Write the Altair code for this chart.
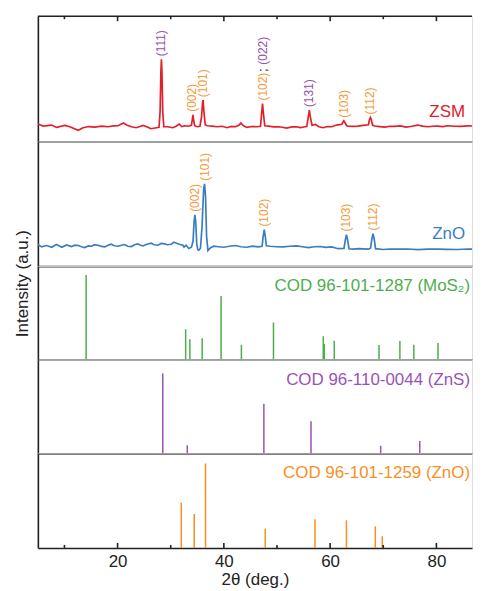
import altair as alt
import pandas as pd

FONT = "Liberation Sans"
AX = "#222222"
RED = "#e3202a"
BLUE = "#3a7ebf"
GREEN = "#4cae4c"
PURPLE = "#9a52b4"
ORANGE = "#f7901e"
LBL_OR = "#f39a3b"
LBL_PU = "#9650b0"

W = 436
XDOM = [5, 86.7]
H = [126, 125, 94, 94, 95]

zsm_x = [5.0, 6.0, 7.6, 8.5, 10.1, 11.0, 12.6, 13.5, 14.6, 15.7, 17.0, 18.2, 19.2, 20.1,
         21.1, 21.8, 22.6, 23.5, 24.8, 25.6, 26.3, 27.3, 27.8, 28.0, 28.15, 28.25, 28.35,
         28.5, 28.7, 29.4, 30.4, 31.0, 31.6, 32.1, 32.6, 33.3, 33.9, 34.05, 34.18, 34.3,
         34.5, 35.0, 35.5, 35.8, 36.0, 36.1, 36.25, 36.5, 36.9, 37.8, 38.7, 39.7, 40.6,
         41.4, 42.2, 42.8, 43.2, 43.7, 44.3, 45.3, 46.2, 46.9, 47.1, 47.28, 47.45, 47.7,
         48.4, 49.4, 50.3, 51.0, 51.8, 52.8, 53.7, 54.4, 55.0, 55.6, 55.9, 56.09, 56.3,
         56.6, 57.2, 57.9, 58.7, 59.5, 60.3, 61.2, 62.2, 62.45, 62.58, 62.75, 63.1, 63.4,
         64.3, 65.3, 66.2, 67.2, 67.4, 67.57, 67.75, 68.0, 68.4, 69.3, 70.3, 71.2, 72.1,
         73.2, 74.3, 75.4, 76.5, 77.4, 78.4, 79.3, 80.2, 81.2, 82.1, 83.4, 84.6, 85.9,
         87.1, 88.2]
zsm_y = [17.7, 15.7, 16.7, 14.3, 16.3, 15.0, 11.5, 14.0, 15.2, 14.7, 15.6, 15.0, 15.8, 16.0,
         18.7, 16.5, 15.0, 14.0, 16.3, 14.8, 13.0, 14.0, 14.5, 30.0, 70.0, 82.7, 70.0,
         30.0, 15.0, 15.0, 14.0, 15.5, 17.7, 15.2, 16.0, 15.5, 16.5, 22.0, 27.0, 22.0,
         16.0, 15.0, 15.5, 25.0, 40.0, 41.7, 30.0, 17.0, 16.0, 15.6, 15.0, 15.5, 14.0,
         15.3, 15.0, 16.5, 18.7, 16.0, 14.3, 15.2, 15.0, 15.5, 28.0, 38.3, 28.0, 16.0,
         15.7, 14.8, 15.0, 14.5, 13.7, 14.8, 15.0, 14.2, 14.7, 15.2, 25.0, 31.7, 24.0,
         16.5, 17.3, 15.0, 14.0, 15.2, 15.0, 16.7, 17.5, 20.0, 21.0, 19.5, 16.0, 15.7,
         15.3, 15.7, 16.3, 17.0, 22.0, 24.3, 22.0, 16.5, 15.7, 15.2, 14.7, 15.5, 15.3,
         15.8, 14.7, 15.5, 16.7, 15.6, 15.0, 15.5, 15.7, 15.2, 16.0, 15.5, 15.3, 15.9,
         15.7, 15.5]

zno_x = [5.0, 5.7, 6.65, 7.6, 8.5, 9.5, 10.4, 11.3, 12.0, 12.6, 13.2, 13.8, 14.5, 15.1,
         15.7, 16.3, 17.0, 17.6, 18.2, 18.8, 19.4, 20.1, 20.7, 21.3, 21.9, 22.6, 23.2,
         23.8, 24.3, 24.8, 25.5, 26.3, 26.9, 27.6, 28.2, 28.8, 29.4, 30.1, 30.6, 31.0,
         31.6, 32.3, 32.5, 32.9, 33.4, 33.9, 34.2, 34.4, 34.55, 34.7, 34.9, 35.1, 35.3,
         35.6, 35.9, 36.2, 36.37, 36.55, 36.75, 37.0, 37.5, 38.1, 39.0, 40.0, 41.0, 42.2,
         43.2, 44.3, 45.4, 46.5, 47.2, 47.4, 47.6, 47.8, 48.0, 48.7, 49.9, 51.2, 52.4,
         53.7, 54.8, 55.9, 57.0, 58.1, 59.2, 60.3, 61.5, 62.6, 62.85, 63.07, 63.3, 63.55,
         64.3, 65.3, 66.2, 67.2, 67.6, 67.85, 68.07, 68.3, 68.55, 69.9, 71.3, 72.7, 74.6,
         76.5, 78.4, 80.2, 82.0, 83.9, 86.0, 88.2]
zno_y = [21.7, 19.3, 20.7, 19.0, 21.7, 19.0, 21.3, 19.7, 21.0, 20.7, 19.5, 18.7, 20.3, 20.0,
         21.5, 21.0, 19.8, 19.3, 21.0, 22.0, 20.5, 20.0, 21.0, 21.7, 20.0, 19.7, 21.5,
         22.3, 21.0, 20.3, 22.0, 23.0, 21.5, 21.0, 22.8, 22.3, 21.5, 22.0, 24.0, 23.3,
         22.0, 21.0, 19.0, 21.0, 17.7, 19.0, 25.0, 45.0, 51.5, 45.0, 22.0, 16.5, 16.0,
         18.0, 40.0, 78.0, 82.7, 70.0, 30.0, 15.7, 18.5, 20.0, 19.5, 19.0, 20.0, 20.7,
         19.5, 19.0, 20.0, 19.3, 20.0, 30.0, 36.7, 30.0, 20.5, 20.0, 19.5, 19.3, 20.0,
         20.3, 19.5, 18.7, 19.5, 19.7, 18.8, 19.3, 17.5, 17.8, 26.0, 31.7, 26.0, 17.5,
         17.0, 17.5, 17.3, 17.0, 18.0, 27.0, 32.7, 27.0, 17.5, 16.7, 17.2, 17.0, 17.2,
         16.5, 17.0, 17.0, 16.8, 16.7, 17.2, 17.0]

mos2_x = [14.08, 32.81, 33.61, 35.92, 39.48, 43.3, 49.34, 58.71, 58.9, 60.77, 69.2, 73.13,
          75.75, 80.3, 87.98]
mos2_y = [85.0, 30.7, 20.7, 21.7, 64.0, 15.0, 37.3, 23.7, 15.7, 19.0, 14.7, 18.7, 15.0,
          16.7, 18.7]
zns_x = [28.5, 33.11, 47.53, 56.4, 69.51, 76.87]
zns_y = [80.3, 8.0, 49.7, 32.3, 7.7, 12.3]
znoref_x = [31.99, 34.42, 36.55, 47.79, 57.15, 63.07, 68.5, 69.81]
znoref_y = [45.3, 34.0, 84.7, 19.3, 28.7, 27.7, 21.7, 11.7]

zsm_lbl_x = [28.25, 34.1, 36.1, 47.28, 56.09, 62.58, 67.57]
zsm_lbl_y = [82.7, 27.0, 41.7, 38.3, 31.7, 21.0, 24.3]
zsm_lbl_t = ["(111)", "(002)", "(101)", "(102)", "(131)", "(103)", "(112)"]
zsm_lbl_c = [LBL_PU, LBL_OR, LBL_OR, LBL_OR, LBL_PU, LBL_OR, LBL_OR]
zno_lbl_x = [34.55, 36.37, 47.6, 63.07, 68.07]
zno_lbl_y = [51.5, 82.7, 36.7, 31.7, 32.7]
zno_lbl_t = ["(002)", "(101)", "(102)", "(103)", "(112)"]

tick_major = [20, 40, 60, 80]
tick_minor = [10, 30, 50, 70]


def xenc(bottom=False):
    if bottom:
        ax = alt.Axis(title="2θ (deg.)", values=tick_major, ticks=False, grid=False,
                      labelFontSize=17, labelPadding=6, labelColor=AX, labelFont=FONT,
                      titleFontSize=17, titleFont=FONT, titleFontWeight="normal",
                      titleColor=AX, titlePadding=2, labelFlush=False)
    else:
        ax = alt.Axis(title=None, labels=False, ticks=False, grid=False)
    return alt.X("x:Q", scale=alt.Scale(domain=XDOM, nice=False, zero=False), axis=ax)


def yenc(h, title=False):
    if title:
        ax = alt.Axis(title="Intensity (a.u.)", labels=False, ticks=False, grid=False,
                      titleFontSize=17, titleFont=FONT,
                      titleFontWeight="normal", titleColor=AX, titleX=-10, titleY=17,
                      titleAlign="center", titleBaseline="alphabetic", titleAngle=270)
    else:
        ax = alt.Axis(title=None, labels=False, ticks=False, grid=False)
    return alt.Y("y:Q", scale=alt.Scale(domain=[0, h], nice=False, zero=True), axis=ax)


def name_label(text, color, px, py):
    df = pd.DataFrame({"label": [text]})
    return alt.Chart(df).mark_text(align="right", baseline="middle", fontSize=17,
                                   font=FONT, color=color).encode(
        x=alt.value(px), y=alt.value(py), text="label:N")


def ticks_layer(values, top, length, h, bottom):
    df = pd.DataFrame({"x": values})
    if top:
        enc = dict(y=alt.value(0), y2=alt.value(length))
    else:
        enc = dict(y=alt.value(h), y2=alt.value(h - length))
    return alt.Chart(df).mark_rule(color=AX, strokeWidth=1.6).encode(
        x=xenc(bottom), **enc)


h = H[0]
zsm_df = pd.DataFrame({"x": zsm_x, "y": zsm_y})
lbl_df = pd.DataFrame({"x": zsm_lbl_x, "y": zsm_lbl_y, "t": zsm_lbl_t, "c": zsm_lbl_c})
semi_df = pd.DataFrame({"x": [47.28], "y": [38.3], "t": [";"]})
o22_df = pd.DataFrame({"x": [47.28], "y": [38.3], "t": ["(022)"]})
p1 = alt.layer(
    alt.Chart(zsm_df).mark_line(color=RED, strokeWidth=1.7, clip=True).encode(
        x=xenc(), y=yenc(h)),
    alt.Chart(lbl_df).mark_text(angle=270, align="left", baseline="middle", dx=3,
                                fontSize=12, font=FONT).encode(
        x=xenc(), y=yenc(h), text="t:N", color=alt.Color("c:N", scale=None)),
    alt.Chart(semi_df).mark_text(angle=270, align="left", baseline="middle", dx=32,
                                 fontSize=12, font=FONT, color=AX).encode(
        x=xenc(), y=yenc(h), text="t:N"),
    alt.Chart(o22_df).mark_text(angle=270, align="left", baseline="middle", dx=39,
                                fontSize=12, font=FONT, color=LBL_PU).encode(
        x=xenc(), y=yenc(h), text="t:N"),
    name_label("ZSM", RED, 429, 96),
    alt.Chart(pd.DataFrame({"a": [0]})).mark_rule(color=AX, strokeWidth=1.6).encode(
        x=alt.value(0), x2=alt.value(W), y=alt.value(0)),
    ticks_layer(tick_major, True, 5, h, False),
    ticks_layer(tick_minor, True, 3, h, False),
).properties(width=W, height=h)

h = H[1]
zno_df = pd.DataFrame({"x": zno_x, "y": zno_y})
zlbl_df = pd.DataFrame({"x": zno_lbl_x, "y": zno_lbl_y, "t": zno_lbl_t})
p2 = alt.layer(
    alt.Chart(zno_df).mark_line(color=BLUE, strokeWidth=1.7, clip=True).encode(
        x=xenc(), y=yenc(h)),
    alt.Chart(zlbl_df).mark_text(angle=270, align="left", baseline="middle", dx=3,
                                 fontSize=12, font=FONT, color=LBL_OR).encode(
        x=xenc(), y=yenc(h), text="t:N"),
    name_label("ZnO", BLUE, 429, 93),
).properties(width=W, height=h)


def stick_panel(xs, ys, color, text, h, title=False, bottom=False):
    df = pd.DataFrame({"x": xs, "y": ys})
    layers = [
        alt.Chart(df).mark_rule(color=color, strokeWidth=1.5, clip=True).encode(
            x=xenc(bottom), y=yenc(h, title), y2=alt.datum(0)),
        name_label(text, color, 434, 20),
    ]
    if bottom:
        layers.append(ticks_layer(tick_major, False, 5, h, True))
        layers.append(ticks_layer(tick_minor, False, 3, h, True))
    return alt.layer(*layers).properties(width=W, height=h)


p3 = stick_panel(mos2_x, mos2_y, GREEN, "COD 96-101-1287 (MoS₂)", H[2], title=True)
p4 = stick_panel(zns_x, zns_y, PURPLE, "COD 96-110-0044 (ZnS)", H[3])
p5 = stick_panel(znoref_x, znoref_y, ORANGE, "COD 96-101-1259 (ZnO)", H[4], bottom=True)

chart = alt.vconcat(p1, p2, p3, p4, p5, spacing=0, bounds="flush").properties(
    padding={"left": 5, "top": 5, "right": 0, "bottom": 0}
).configure_view(stroke=None).configure(font=FONT).configure_axis(
    domainColor=AX, domainWidth=1.6)

chart.save("out.html", embed_options={"renderer": "svg", "actions": False})
